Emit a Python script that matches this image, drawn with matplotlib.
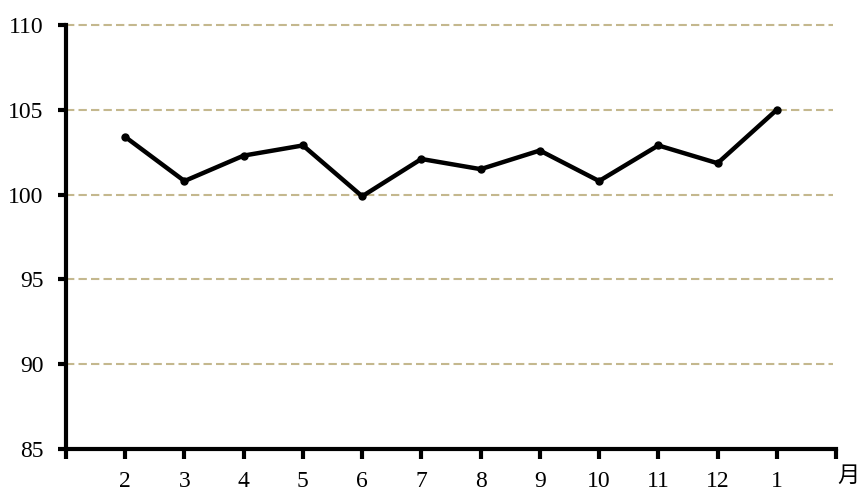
import matplotlib.pyplot as plt

# month labels and index values (%)
months = ['2', '3', '4', '5', '6', '7', '8', '9', '10', '11', '12', '1']
values = [103.4, 100.8, 102.3, 102.9, 99.9, 102.1, 101.5, 102.6, 100.8, 102.9, 101.85, 105.0]
yticks = [85, 90, 95, 100, 105, 110]

serif = ['Liberation Serif', 'DejaVu Serif']
cjk = ['Noto Sans CJK JP', 'DejaVu Sans']
plt.rcParams['font.family'] = serif
plt.rcParams['font.size'] = 17

fig = plt.figure(figsize=(8.61, 4.95), dpi=100)
ax = fig.add_axes([66 / 861, 1 - 449 / 495, (836 - 66) / 861, (449 - 25) / 495])

x = list(range(1, len(months) + 1))

# dashed guide lines
for y in yticks[1:]:
    ax.plot([0, 12.95], [y, y], color='#c4b88e', linestyle=(0, (4, 2)),
            linewidth=1.5, zorder=1, clip_on=False)

ax.plot(x, values, color='black', linewidth=3.2, marker='o', markersize=5, zorder=3)

ax.set_xlim(0, 13)
ax.set_ylim(85, 110)
ax.set_yticks(yticks)
ax.set_yticklabels([str(v) for v in yticks])
ax.set_xticks(list(range(0, 14)))
ax.set_xticklabels([''] + months + [''])

for side in ['top', 'right']:
    ax.spines[side].set_visible(False)
for side in ['left', 'bottom']:
    ax.spines[side].set_linewidth(3)
ax.tick_params(axis='both', direction='out', width=3, labelsize=17)
ax.tick_params(axis='x', length=7, pad=9)
ax.tick_params(axis='y', length=6, pad=10)

fig.text(44 / 861, 1 - 5 / 495, '%', fontsize=17, va='bottom', ha='left')
fig.text(848 / 861, 1 - 475 / 495, '月', fontfamily=cjk, fontsize=16, va='center', ha='center')

fig.savefig('out.png', dpi=100)
